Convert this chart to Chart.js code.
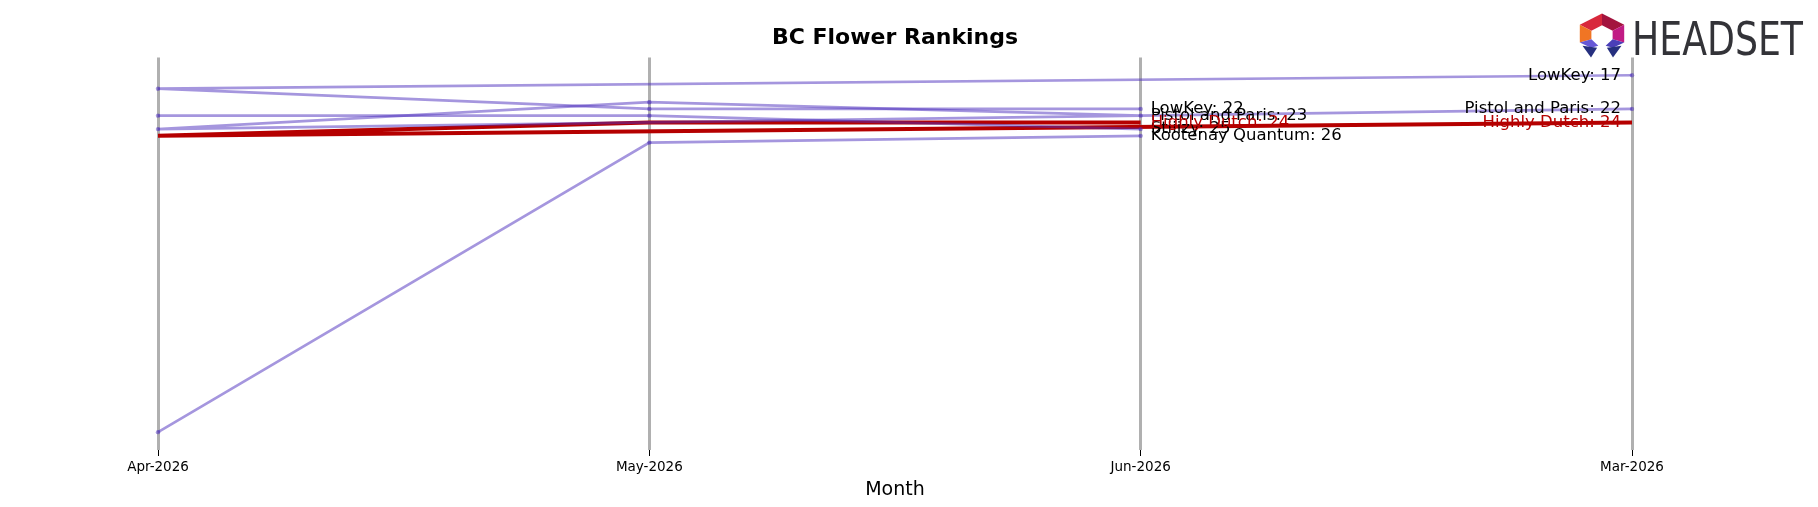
<!DOCTYPE html>
<html>
<head>
<meta charset="utf-8">
<title>BC Flower Rankings</title>
<script src="https://cdn.jsdelivr.net/npm/chart.js@4.4.1/dist/chart.umd.min.js"></script>
<style>
  body { margin: 0; background: #fff; }
  #wrap { position: relative; width: 1818px; height: 507px; }
  #logo { position: absolute; left: 0; top: 0; }
</style>
</head>
<body>
<div id="wrap">
  <canvas id="rankChart" width="1818" height="507"></canvas>
  <svg id="logo" width="1818" height="70" viewBox="0 0 1818 70">
    <g transform="translate(1602,36) scale(1.22,1.07)">
      <polygon points="0,-21 -18.2,-10.5 -8.7,-5 0,-10" fill="#d8283c"/>
      <polygon points="0,-21 18.2,-10.5 8.7,-5 0,-10" fill="#a3143e"/>
      <polygon points="-18.2,-10.5 -18.2,6 -8.7,3 -8.7,-5" fill="#f07524"/>
      <polygon points="18.2,-10.5 18.2,6 8.7,3 8.7,-5" fill="#c11b84"/>
      <polygon points="-18.2,6 -8.7,3 -3,9 -9,11" fill="#6658d6"/>
      <polygon points="18.2,6 8.7,3 3,9 9,11" fill="#4a3fb8"/>
      <polygon points="-16,9 -4,11 -9,20" fill="#26307f"/>
      <polygon points="16,9 4,11 9,20" fill="#26307f"/>
    </g>
    <text x="1632" y="55" font-family="'Liberation Sans Narrow', 'DejaVu Sans Condensed', sans-serif"
          font-size="46" fill="#333338" textLength="171" lengthAdjust="spacingAndGlyphs">HEADSET</text>
  </svg>
</div>
<script>
// x axis order as it appears on the chart
const axisMonths = ['Apr-2026', 'May-2026', 'Jun-2026', 'Mar-2026'];
// months in the order the data rows come in
const dataMonths = ['Mar-2026', 'Apr-2026', 'May-2026', 'Jun-2026'];

// rank per brand, same order as dataMonths (null = not ranked)
const lowKeyRanks = [17, 19, 22, 22];
const pistolAndParisRanks = [22, 25, 21, 23];
const stiiizyRanks = [null, 23, 23, 25];
const kootenayQuantumRanks = [null, 70, 27, 26];
const highlyDutchRanks = [24, 26, 24, 24];

const brands = ['LowKey', 'Pistol and Paris', 'Stiiizy', 'Kootenay Quantum', 'Highly Dutch'];
const brandRanks = [lowKeyRanks, pistolAndParisRanks, stiiizyRanks, kootenayQuantumRanks, highlyDutchRanks];
const highlightBrand = 'Highly Dutch';

const purple = 'rgba(75, 45, 190, 0.5)';
const red = '#b50000';
const font = "'DejaVu Sans', sans-serif";

function toPoints(ranks) {
  return dataMonths
    .map((m, i) => ({ x: m, y: ranks[i] }))
    .filter(p => p.y !== null);
}

// brand: rank text at the first (Mar) and last (Jun) month
const rankLabels = {
  id: 'rankLabels',
  afterDatasetsDraw(chart) {
    const ctx = chart.ctx;
    const xs = chart.scales.x;
    const ys = chart.scales.y;
    ctx.save();
    ctx.font = '16.5px ' + font;
    ctx.textBaseline = 'middle';
    chart.data.datasets.forEach(ds => {
      const pts = ds.data;
      const first = pts[0];
      const last = pts[pts.length - 1];
      ctx.fillStyle = ds.label === highlightBrand ? red : '#000';
      if (first.x === dataMonths[0]) {
        ctx.textAlign = 'right';
        ctx.fillText(ds.label + ': ' + first.y,
          xs.getPixelForValue(axisMonths.indexOf(first.x)) - 11, ys.getPixelForValue(first.y));
      }
      ctx.textAlign = 'left';
      ctx.fillText(ds.label + ': ' + last.y,
        xs.getPixelForValue(axisMonths.indexOf(last.x)) + 10, ys.getPixelForValue(last.y));
    });
    ctx.restore();
  }
};

function createChart() {
  const datasets = brands.map((name, i) => {
    const hot = name === highlightBrand;
    return {
      label: name,
      data: toPoints(brandRanks[i]),
      borderColor: hot ? red : purple,
      backgroundColor: hot ? red : purple,
      borderWidth: hot ? 4 : 2.7,
      pointRadius: hot ? 0 : 2.2,
      pointBorderWidth: 0,
      tension: 0,
      order: hot ? 1 : 0
    };
  });

  const ctx = document.getElementById('rankChart').getContext('2d');
  new Chart(ctx, {
    type: 'line',
    data: { labels: axisMonths, datasets: datasets },
    plugins: [rankLabels],
    options: {
      responsive: false,
      animation: false,
      layout: { padding: { left: 158, right: 186, top: 0, bottom: 6 } },
      plugins: {
        legend: { display: false },
        tooltip: { enabled: false },
        title: {
          display: true,
          text: 'BC Flower Rankings',
          fullSize: false,
          color: '#000',
          font: { family: font, size: 22, weight: 'bold' },
          padding: { top: 25, bottom: 6 }
        }
      },
      scales: {
        x: {
          type: 'category',
          offset: false,
          border: { display: false },
          grid: {
            color: '#b0b0b0',
            lineWidth: 3,
            drawTicks: true,
            tickLength: 6,
            tickColor: '#000',
            tickWidth: 1
          },
          ticks: { color: '#000', padding: 3, font: { family: font, size: 13.5 } },
          title: {
            display: true,
            text: 'Month',
            color: '#000',
            font: { family: font, size: 19 },
            padding: { top: 0, bottom: 0 }
          }
        },
        y: {
          display: false,
          reverse: true,
          min: 14.35,
          max: 72.65
        }
      }
    }
  });
}

createChart();
</script>
</body>
</html>
